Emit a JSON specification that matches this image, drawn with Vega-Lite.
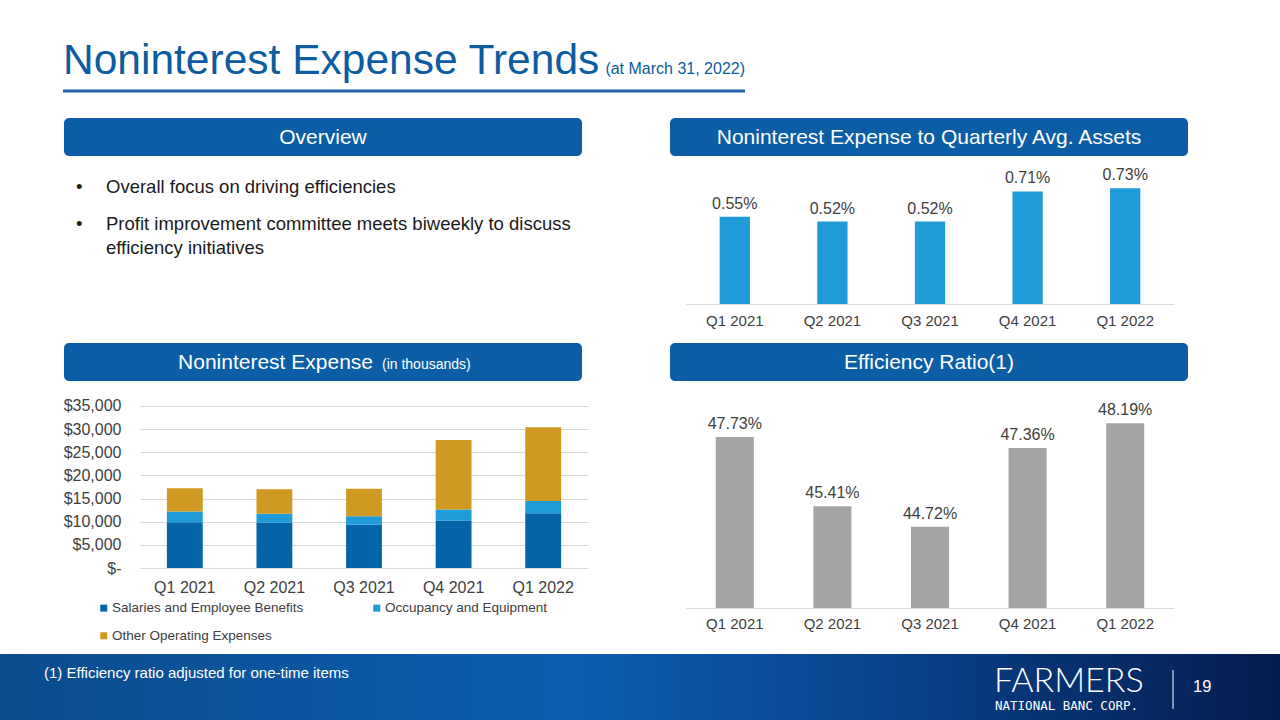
{
  "$schema": "https://vega.github.io/schema/vega-lite/v6.json",
  "background": "white",
  "padding": 0,
  "spacing": 0,
  "resolve": {"scale": {"color": "independent"}, "legend": {"color": "independent"}},
  "config": {
    "view": {"stroke": null},
    "font": "Liberation Sans",
    "text": {"font": "Liberation Sans"},
    "axis": {"labelFont": "Liberation Sans"},
    "legend": {"labelFont": "Liberation Sans"}
  },
  "datasets": {
    "assets": [
      {"quarter": "Q1 2021", "ratio": 0.0055},
      {"quarter": "Q2 2021", "ratio": 0.0052},
      {"quarter": "Q3 2021", "ratio": 0.0052},
      {"quarter": "Q4 2021", "ratio": 0.0071},
      {"quarter": "Q1 2022", "ratio": 0.0073}
    ],
    "efficiency": [
      {"quarter": "Q1 2021", "ratio": 0.4773},
      {"quarter": "Q2 2021", "ratio": 0.4541},
      {"quarter": "Q3 2021", "ratio": 0.4472},
      {"quarter": "Q4 2021", "ratio": 0.4736},
      {"quarter": "Q1 2022", "ratio": 0.4819}
    ],
    "expense": [
      {"quarter": "Q1 2021", "line": 1, "category": "Salaries and Employee Benefits", "amount": 9900},
      {"quarter": "Q1 2021", "line": 2, "category": "Occupancy and Equipment", "amount": 2300},
      {"quarter": "Q1 2021", "line": 3, "category": "Other Operating Expenses", "amount": 5050},
      {"quarter": "Q2 2021", "line": 1, "category": "Salaries and Employee Benefits", "amount": 9850},
      {"quarter": "Q2 2021", "line": 2, "category": "Occupancy and Equipment", "amount": 1870},
      {"quarter": "Q2 2021", "line": 3, "category": "Other Operating Expenses", "amount": 5300},
      {"quarter": "Q3 2021", "line": 1, "category": "Salaries and Employee Benefits", "amount": 9350},
      {"quarter": "Q3 2021", "line": 2, "category": "Occupancy and Equipment", "amount": 1800},
      {"quarter": "Q3 2021", "line": 3, "category": "Other Operating Expenses", "amount": 5950},
      {"quarter": "Q4 2021", "line": 1, "category": "Salaries and Employee Benefits", "amount": 10200},
      {"quarter": "Q4 2021", "line": 2, "category": "Occupancy and Equipment", "amount": 2450},
      {"quarter": "Q4 2021", "line": 3, "category": "Other Operating Expenses", "amount": 15000},
      {"quarter": "Q1 2022", "line": 1, "category": "Salaries and Employee Benefits", "amount": 11800},
      {"quarter": "Q1 2022", "line": 2, "category": "Occupancy and Equipment", "amount": 2650},
      {"quarter": "Q1 2022", "line": 3, "category": "Other Operating Expenses", "amount": 15950}
    ],
    "bullets": [
      {"item": 1, "text": "Overall focus on driving efficiencies"},
      {"item": 2, "text": "Profit improvement committee meets biweekly to discuss\nefficiency initiatives"}
    ]
  },
  "vconcat": [
    {
      "spacing": 0,
      "bounds": "flush",
      "hconcat": [
        {"width": 63, "height": 91, "data": {"values": []}, "mark": "point"},
        {
          "width": 682,
          "height": 91,
          "data": {"values": [{"title": "Noninterest Expense Trends", "asof": "(at March 31, 2022)"}]},
          "layer": [
            {
              "mark": {"type": "text", "align": "left", "baseline": "alphabetic", "fontSize": 42.5, "color": "#0B5CA0", "dy": -17},
              "encoding": {"text": {"field": "title"}, "x": {"value": 0}, "y": {"value": "height"}}
            },
            {
              "mark": {"type": "text", "align": "right", "baseline": "alphabetic", "fontSize": 16, "color": "#0B5CA0", "dy": -17},
              "encoding": {"text": {"field": "asof"}, "x": {"value": "width"}, "y": {"value": "height"}}
            },
            {
              "mark": {"type": "rule", "color": "#1F63A8", "strokeWidth": 3},
              "encoding": {"x": {"value": 0}, "x2": {"value": "width"}, "y": {"value": "height"}}
            }
          ]
        }
      ]
    },
    {"width": 10, "height": 24.5, "data": {"values": []}, "mark": "point"},
    {
      "spacing": 0,
      "bounds": "flush",
      "hconcat": [
        {"width": 64, "height": 38, "data": {"values": []}, "mark": "point"},
        {
          "width": 518,
          "height": 38,
          "view": {"fill": "#0B5EA6", "cornerRadius": 5, "stroke": null},
          "data": {"values": [{"label": "Overview"}]},
          "mark": {"type": "text", "color": "white", "fontSize": 21, "baseline": "alphabetic", "dy": 7},
          "encoding": {"text": {"field": "label"}}
        },
        {"width": 88, "height": 38, "data": {"values": []}, "mark": "point"},
        {
          "width": 518,
          "height": 38,
          "view": {"fill": "#0B5EA6", "cornerRadius": 5, "stroke": null},
          "data": {"values": [{"label": "Noninterest Expense to Quarterly Avg. Assets"}]},
          "mark": {"type": "text", "color": "white", "fontSize": 21, "baseline": "alphabetic", "dy": 7},
          "encoding": {"text": {"field": "label"}}
        }
      ]
    },
    {
      "spacing": 0,
      "bounds": "flush",
      "hconcat": [
        {"width": 76, "height": 187, "data": {"values": []}, "mark": "point"},
        {
          "width": 506,
          "height": 111,
          "data": {"name": "bullets"},
          "encoding": {
            "y": {"field": "item", "type": "ordinal", "axis": null, "scale": {"type": "point", "padding": 1.29}}
          },
          "layer": [
            {
              "mark": {"type": "text", "text": "•", "align": "left", "baseline": "alphabetic", "fontSize": 18.5, "color": "#1A1A1A"},
              "encoding": {"x": {"value": 0}}
            },
            {
              "mark": {"type": "text", "align": "left", "baseline": "alphabetic", "fontSize": 18.5, "lineHeight": 24, "lineBreak": "\n", "color": "#1A1A1A", "dx": 30},
              "encoding": {"x": {"value": 0}, "text": {"field": "text"}}
            }
          ]
        },
        {"width": 104, "height": 1, "data": {"values": []}, "mark": "point"},
        {
          "width": 488,
          "height": 148,
          "data": {"name": "assets"},
          "encoding": {
            "x": {
              "field": "quarter", "type": "nominal",
              "sort": ["Q1 2021", "Q2 2021", "Q3 2021", "Q4 2021", "Q1 2022"],
              "scale": {"paddingInner": 0, "paddingOuter": 0},
              "axis": {"title": null, "labelAngle": 0, "labelFontSize": 15, "labelColor": "#404040", "labelPadding": 9, "ticks": false, "domain": true, "domainColor": "#D9D9D9", "domainWidth": 1, "grid": false}
            },
            "y": {"field": "ratio", "type": "quantitative", "scale": {"domain": [0, 0.00934], "nice": false}, "axis": null}
          },
          "layer": [
            {"mark": {"type": "bar", "color": "#1F9BD7", "width": {"band": 0.31}}},
            {
              "mark": {"type": "text", "baseline": "alphabetic", "dy": -8, "fontSize": 16, "color": "#404040"},
              "encoding": {"text": {"field": "ratio", "format": ".2%"}}
            }
          ]
        }
      ]
    },
    {
      "spacing": 0,
      "bounds": "flush",
      "hconcat": [
        {"width": 64, "height": 38, "data": {"values": []}, "mark": "point"},
        {
          "width": 518,
          "height": 38,
          "view": {"fill": "#0B5EA6", "cornerRadius": 5, "stroke": null},
          "data": {"values": [{"main": "Noninterest Expense", "sub": "(in thousands)"}]},
          "layer": [
            {
              "mark": {"type": "text", "color": "white", "fontSize": 21, "align": "right", "baseline": "alphabetic", "dx": 50, "dy": 7},
              "encoding": {"text": {"field": "main"}}
            },
            {
              "mark": {"type": "text", "color": "white", "fontSize": 14, "align": "left", "baseline": "alphabetic", "dx": 59, "dy": 7},
              "encoding": {"text": {"field": "sub"}}
            }
          ]
        },
        {"width": 88, "height": 38, "data": {"values": []}, "mark": "point"},
        {
          "width": 518,
          "height": 38,
          "view": {"fill": "#0B5EA6", "cornerRadius": 5, "stroke": null},
          "data": {"values": [{"label": "Efficiency Ratio(1)"}]},
          "mark": {"type": "text", "color": "white", "fontSize": 21, "baseline": "alphabetic", "dy": 7},
          "encoding": {"text": {"field": "label"}}
        }
      ]
    },
    {"width": 10, "height": 16, "data": {"values": []}, "mark": "point"},
    {
      "spacing": 0,
      "bounds": "flush",
      "resolve": {"scale": {"color": "independent"}, "legend": {"color": "independent"}},
      "hconcat": [
        {"width": 140, "height": 255, "data": {"values": []}, "mark": "point"},
        {
          "width": 448,
          "height": 169,
          "data": {"name": "expense"},
          "mark": {"type": "bar", "width": {"band": 0.4}},
          "encoding": {
            "x": {
              "field": "quarter", "type": "nominal",
              "sort": ["Q1 2021", "Q2 2021", "Q3 2021", "Q4 2021", "Q1 2022"],
              "scale": {"paddingInner": 0, "paddingOuter": 0},
              "axis": {"title": null, "labelAngle": 0, "labelFontSize": 16, "labelColor": "#404040", "labelPadding": 11, "ticks": false, "domain": false, "grid": false}
            },
            "y": {
              "field": "amount", "type": "quantitative", "stack": "zero",
              "scale": {"domain": [0, 36500], "nice": false},
              "axis": {
                "title": null,
                "values": [0, 5000, 10000, 15000, 20000, 25000, 30000, 35000],
                "labelExpr": "datum.value === 0 ? '$-\u00a0\u00a0' : '$' + format(datum.value, ',')",
                "labelFontSize": 16, "labelColor": "#404040", "labelPadding": 19,
                "ticks": false, "domain": false, "grid": true, "gridColor": "#D9D9D9", "gridWidth": 1
              }
            },
            "order": {"field": "line", "type": "quantitative", "sort": "ascending"},
            "color": {
              "field": "category", "type": "nominal",
              "scale": {
                "domain": ["Salaries and Employee Benefits", "Occupancy and Equipment", "Other Operating Expenses"],
                "range": ["#0563A8", "#1F9BD7", "#D09A22"]
              },
              "legend": {
                "title": null, "orient": "none", "direction": "horizontal", "legendX": -43, "legendY": 202, "columns": 2,
                "symbolType": "square", "symbolSize": 49, "symbolStrokeWidth": 0,
                "labelFontSize": 13.5, "labelColor": "#404040", "labelOffset": 1.5, "labelLimit": 400,
                "columnPadding": 66, "rowPadding": 13, "padding": 0
              }
            }
          }
        },
        {"width": 98, "height": 1, "data": {"values": []}, "mark": "point"},
        {
          "width": 488,
          "height": 209,
          "data": {"name": "efficiency"},
          "encoding": {
            "x": {
              "field": "quarter", "type": "nominal",
              "sort": ["Q1 2021", "Q2 2021", "Q3 2021", "Q4 2021", "Q1 2022"],
              "scale": {"paddingInner": 0, "paddingOuter": 0},
              "axis": {"title": null, "labelAngle": 0, "labelFontSize": 15, "labelColor": "#404040", "labelPadding": 8, "ticks": false, "domain": true, "domainColor": "#D9D9D9", "domainWidth": 1, "grid": false}
            },
            "y": {"field": "ratio", "type": "quantitative", "scale": {"domain": [0.42, 0.49], "nice": false, "zero": false}, "axis": null}
          },
          "layer": [
            {"mark": {"type": "bar", "color": "#A5A5A5", "width": {"band": 0.39}, "clip": true}},
            {
              "mark": {"type": "text", "baseline": "alphabetic", "dy": -8, "fontSize": 16, "color": "#404040"},
              "encoding": {"text": {"field": "ratio", "format": ".2%"}}
            }
          ]
        }
      ]
    },
    {
      "width": 1280,
      "height": 68,
      "view": {
        "stroke": null,
        "fill": {
          "gradient": "linear", "x1": 0, "y1": 0, "x2": 1, "y2": 0,
          "stops": [
            {"offset": 0, "color": "#0B4C8C"},
            {"offset": 0.45, "color": "#0C5EB2"},
            {"offset": 0.72, "color": "#093F87"},
            {"offset": 1, "color": "#041C4E"}
          ]
        }
      },
      "data": {"values": [{"note": "(1) Efficiency ratio adjusted for one-time items", "brand": "FARMERS", "corp": "NATIONAL BANC CORP.", "page": "19"}]},
      "layer": [
        {
          "mark": {"type": "text", "align": "left", "baseline": "alphabetic", "fontSize": 15, "color": "white"},
          "encoding": {"text": {"field": "note"}, "x": {"value": 44}, "y": {"value": 24}}
        },
        {
          "mark": {"type": "text", "align": "left", "baseline": "alphabetic", "fontSize": 34, "font": "Lato", "fontWeight": 300, "color": "white"},
          "encoding": {"text": {"field": "brand"}, "x": {"value": 994}, "y": {"value": 38}}
        },
        {
          "mark": {"type": "text", "align": "left", "baseline": "alphabetic", "fontSize": 12.5, "font": "DejaVu Sans Mono", "color": "white"},
          "encoding": {"text": {"field": "corp"}, "x": {"value": 995}, "y": {"value": 56}}
        },
        {
          "mark": {"type": "rule", "color": "white", "strokeWidth": 1},
          "encoding": {"x": {"value": 1173}, "y": {"value": 16}, "y2": {"value": 55}}
        },
        {
          "mark": {"type": "text", "align": "left", "baseline": "alphabetic", "fontSize": 16.5, "color": "white"},
          "encoding": {"text": {"field": "page"}, "x": {"value": 1193}, "y": {"value": 38}}
        }
      ]
    }
  ]
}
